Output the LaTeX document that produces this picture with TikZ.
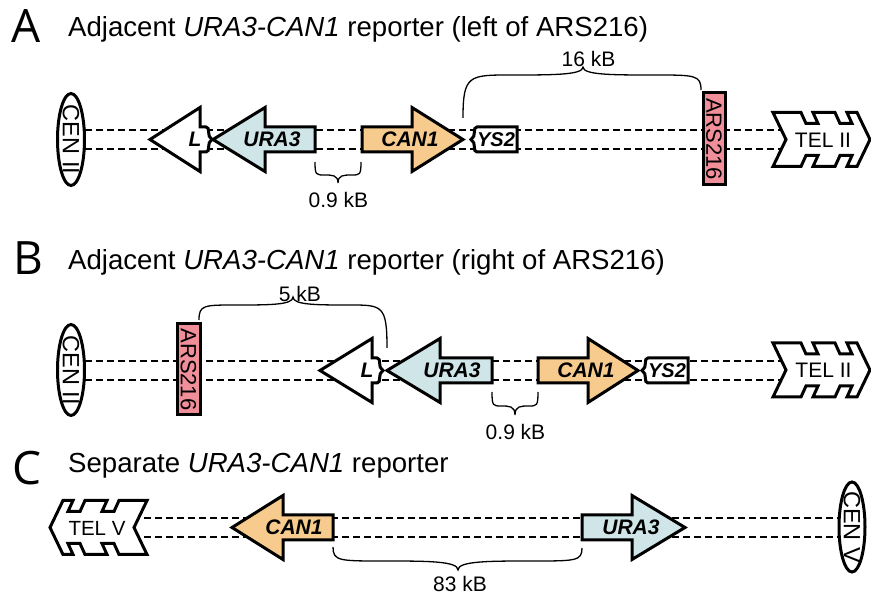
\documentclass[tikz,border=0pt]{standalone}
\usepackage{fontspec}
\setmainfont{Liberation Sans}
\newfontfamily\letterfont{Open Sans}
\definecolor{uracol}{RGB}{207,229,231}
\definecolor{cancol}{RGB}{246,203,141}
\definecolor{arscol}{RGB}{240,143,153}
% right-pointing gene: shaft start, head base, tip, centre y, colour
\newcommand\RGene[5]{\draw[shp, fill=#5] (#1,#4-12.5) -- (#2,#4-12.5) -- (#2,#4-32) -- (#3,#4) -- (#2,#4+32) -- (#2,#4+12.5) -- (#1,#4+12.5) -- cycle;}
% left-pointing gene: tip, head base, shaft end, centre y, colour
\newcommand\LGene[5]{\draw[shp, fill=#5] (#1,#4) -- (#2,#4-32) -- (#2,#4-12.5) -- (#3,#4-12.5) -- (#3,#4+12.5) -- (#2,#4+12.5) -- (#2,#4+32) -- cycle;}
% L fragment: tip, head base, wavy end x, centre y
\newcommand\LFrag[4]{\draw[shp, fill=white] (#1,#4) -- (#2,#4-32) -- (#2,#4-12.5) -- (#3,#4-12.5) .. controls (#3+5,#4-12.5) and (#3,#4-3) .. (#3+6,#4) .. controls (#3,#4+3) and (#3+5,#4+12.5) .. (#3,#4+12.5) -- (#2,#4+12.5) -- (#2,#4+32) -- cycle;}
% YS2 fragment: wavy start x, right x, centre y
\newcommand\YSFrag[3]{\draw[shp, fill=white] (#1,#3-12.5) -- (#2,#3-12.5) -- (#2,#3+12.5) -- (#1,#3+12.5) .. controls (#1-5,#3+12.5) and (#1,#3+3) .. (#1-6,#3) .. controls (#1,#3-3) and (#1-5,#3-12.5) .. cycle;}
% telomere outline in local coordinates
\newcommand\TelPath{(0,-27) -- (28,-27) -- (33,-16) -- (45,-16) -- (40,-27) -- (62,-27) -- (67,-16) -- (79,-16) -- (74,-27) -- (84,-27) -- (97,0) -- (84,27) -- (74,27) -- (79,16) -- (67,16) -- (62,27) -- (40,27) -- (45,16) -- (33,16) -- (28,27) -- (0,27) -- (13,0) -- cycle}
% brace: x1,y1,x2,y2,xm,yh,ytip
\newcommand\Brc[7]{\draw[brc] (#1,#2) .. controls (#1,#6) and ({#1+0.05*(#5-#1)},#6) .. ({#1+0.4*(#5-#1)},#6) .. controls ({#5-0.25*(#5-#1)},#6) and (#5,#6) .. (#5,#7) .. controls (#5,#6) and ({#5+0.25*(#3-#5)},#6) .. ({#5+0.6*(#3-#5)},#6) .. controls ({#3-0.05*(#3-#5)},#6) and (#3,#6) .. (#3,#4);}
\begin{document}
\begin{tikzpicture}[x=1pt,y=-1pt,
  dna/.style={line width=2pt, dash pattern=on 6.5pt off 4.5pt},
  shp/.style={line width=3pt, line join=miter, draw=black},
  brc/.style={line width=1.3pt},
  ttl/.style={anchor=base west, inner sep=0pt, font=\fontsize{27.6}{32}\selectfont},
  letter/.style={anchor=base west, inner sep=0pt, font=\letterfont\fontsize{46}{50}\selectfont},
  gene/.style={inner sep=0pt, font=\fontsize{21}{24}\selectfont\bfseries\itshape},
  kb/.style={inner sep=0pt, font=\fontsize{21}{24}\selectfont},
  vtxt/.style={inner sep=0pt, rotate=-90, font=\fontsize{23.5}{26}\selectfont},
  tel/.style={inner sep=0pt, font=\fontsize{21}{24}\selectfont}]
\useasboundingbox (0,0) rectangle (871,601);
\fill[white] (0,0) rectangle (871,601);

%%%%%%%%%%%%%%%% Panel A
\node[letter] (la) at (11,43) {A};
\node[ttl] (ta) at (68,37) {Adjacent \textit{URA3-CAN1} reporter (left of ARS216)};
\coordinate (a1s) at (85,130); \coordinate (a1e) at (786,130);
\coordinate (a2s) at (85,149); \coordinate (a2e) at (786,149);
\draw[dna] (a1s) -- (a1e);
\draw[dna] (a2s) -- (a2e);
\draw[shp, fill=white] (71,139.5) ellipse [x radius=13.5pt, y radius=46pt];
\node[vtxt] (cena) at (71,139.5) {CEN II};
\LFrag{150}{200}{206}{139.5}
\LGene{213}{265}{315}{139.5}{uracol}
\RGene{362}{412}{463}{139.5}{cancol}
\YSFrag{477}{517}{139.5}
\draw[shp, fill=arscol] (703,93) rectangle (725,185);
\node[vtxt, font=\fontsize{22}{24}\selectfont] (arsa) at (714,139) {ARS216};
\begin{scope}[shift={(773,139.5)}]
\draw[shp, fill=white] \TelPath;
\end{scope}
\node[tel] (tela) at (823,140) {TEL II};
\node[gene] (la1) at (195,139.5) {L};
\node[gene] (ura) at (272,139.5) {URA3};
\node[gene] (cana) at (410,139.5) {CAN1};
\node[gene, font=\fontsize{20}{24}\selectfont\bfseries\itshape] (ysa) at (496,139.5) {YS2};
\Brc{315}{162}{361}{162}{338}{175}{183}
\node[kb] (ka1) at (338.5,200) {0.9 kB};
\Brc{463}{118}{701}{90}{583}{75}{67}
\node[kb] (ka2) at (588.5,58.5) {16 kB};

%%%%%%%%%%%%%%%% Panel B
\node[letter] (lb) at (13,275) {B};
\node[ttl] (tb) at (68,269.5) {Adjacent \textit{URA3-CAN1} reporter (right of ARS216)};
\coordinate (b1s) at (85,361); \coordinate (b1e) at (786,361);
\coordinate (b2s) at (85,380); \coordinate (b2e) at (786,380);
\draw[dna] (b1s) -- (b1e);
\draw[dna] (b2s) -- (b2e);
\draw[shp, fill=white] (71,370) ellipse [x radius=13.5pt, y radius=45.5pt];
\node[vtxt] (cenb) at (71,370) {CEN II};
\draw[shp, fill=arscol] (177,324) rectangle (200,415);
\node[vtxt, font=\fontsize{22}{24}\selectfont] (arsb) at (188.5,369.5) {ARS216};
\LFrag{320}{372}{377}{370.5}
\LGene{387}{440}{492}{370.5}{uracol}
\RGene{538}{588}{638}{370.5}{cancol}
\YSFrag{648}{688}{370.5}
\begin{scope}[shift={(773,370)}]
\draw[shp, fill=white] \TelPath;
\end{scope}
\node[tel] (telb) at (823.5,370.5) {TEL II};
\node[gene] (lb1) at (367,370.5) {L};
\node[gene] (urb) at (452,370.5) {URA3};
\node[gene] (canb) at (586,370.5) {CAN1};
\node[gene, font=\fontsize{20}{24}\selectfont\bfseries\itshape] (ysb) at (667,370.5) {YS2};
\Brc{199}{320}{387}{348}{293}{305}{297}
\node[kb] (kb1) at (300,293.5) {5 kB};
\Brc{492}{392}{538}{392}{515}{406}{415}
\node[kb] (kb2) at (515.5,432) {0.9 kB};

%%%%%%%%%%%%%%%% Panel C
\node[letter] (lc) at (12,485) {C};
\node[ttl] (tc) at (68,473) {Separate \textit{URA3-CAN1} reporter};
\coordinate (c1s) at (133,518.5); \coordinate (c1e) at (839,518.5);
\coordinate (c2s) at (133,537.5); \coordinate (c2e) at (839,537.5);
\draw[dna] (c1s) -- (c1e);
\draw[dna] (c2s) -- (c2e);
\begin{scope}[shift={(147,527.5)}, xscale=-1]
\draw[shp, fill=white] \TelPath;
\end{scope}
\node[tel, font=\fontsize{20.5}{24}\selectfont] (telc) at (97,528) {TEL V};
\LGene{232}{283}{333}{527.5}{cancol}
\RGene{582}{632}{685}{527.5}{uracol}
\node[gene] (canc) at (294,527.5) {CAN1};
\node[gene] (urc) at (631,527.5) {URA3};
\draw[shp, fill=white] (852,527) ellipse [x radius=13pt, y radius=45pt];
\node[vtxt] (cenc) at (852,527) {CEN V};
\Brc{333}{547}{582}{548}{458}{561}{570}
\node[kb] (kc) at (460,583.5) {83 kB};
\end{tikzpicture}
\end{document}
